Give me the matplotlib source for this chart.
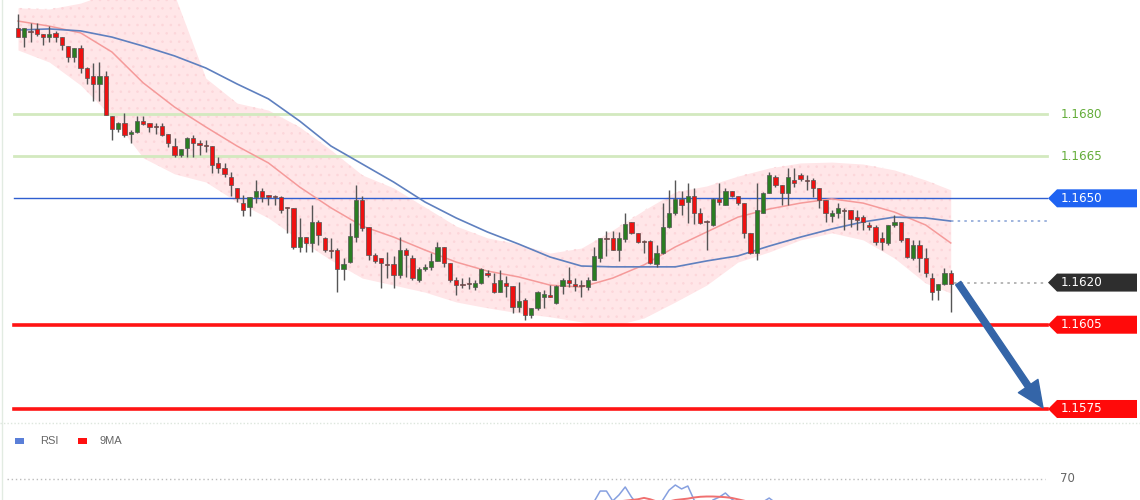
import numpy as np
import matplotlib.pyplot as plt
from matplotlib.patches import Polygon, Rectangle

# candles (EURUSD-like)
opens = [
    1.17106, 1.17074, 1.17096, 1.17103, 1.17085, 1.17074, 1.17089, 1.17074, 1.17042, 1.17003,
    1.17035, 1.16964, 1.16935, 1.16907, 1.16935, 1.16793, 1.16747, 1.16768, 1.16729, 1.16736,
    1.16775, 1.16768, 1.16757, 1.16757, 1.16729, 1.16686, 1.16654, 1.16679, 1.16715, 1.16697,
    1.16690, 1.16686, 1.16626, 1.16608, 1.16576, 1.16537, 1.16483, 1.16469, 1.16505, 1.16526,
    1.16512, 1.16508, 1.16505, 1.16469, 1.16466, 1.16327, 1.16362, 1.16341, 1.16416, 1.16359,
    1.16316, 1.16316, 1.16248, 1.16273, 1.16362, 1.16494, 1.16398, 1.16298, 1.16287, 1.16266,
    1.16266, 1.16227, 1.16316, 1.16287, 1.16209, 1.16248, 1.16256, 1.16277, 1.16327, 1.16270,
    1.16209, 1.16195, 1.16198, 1.16184, 1.16198, 1.16234, 1.16198, 1.16166, 1.16198, 1.16188,
    1.16113, 1.16138, 1.16085, 1.16110, 1.16149, 1.16156, 1.16127, 1.16188, 1.16209, 1.16195,
    1.16191, 1.16184, 1.16209, 1.16287, 1.16359, 1.16359, 1.16316, 1.16355, 1.16416, 1.16377,
    1.16348, 1.16348, 1.16266, 1.16305, 1.16398, 1.16448, 1.16498, 1.16487, 1.16508, 1.16448,
    1.16419, 1.16405, 1.16498, 1.16476, 1.16526, 1.16508, 1.16483, 1.16377, 1.16305, 1.16448,
    1.16519, 1.16576, 1.16547, 1.16519, 1.16565, 1.16583, 1.16565, 1.16565, 1.16537, 1.16494,
    1.16437, 1.16448, 1.16458, 1.16458, 1.16433, 1.16433, 1.16405, 1.16398, 1.16359, 1.16341,
    1.16405, 1.16416, 1.16359, 1.16287, 1.16334, 1.16287, 1.16216, 1.16174, 1.16195, 1.16234,
]
highs = [
    1.17156, 1.17106, 1.17124, 1.17124, 1.17085, 1.17113, 1.17096, 1.17074, 1.17042, 1.17035,
    1.17046, 1.16967, 1.16982, 1.16985, 1.16953, 1.16793, 1.16772, 1.16804, 1.16743, 1.16793,
    1.16793, 1.16768, 1.16768, 1.16768, 1.16729, 1.16715, 1.16676, 1.16718, 1.16725, 1.16708,
    1.16708, 1.16686, 1.16647, 1.16626, 1.16594, 1.16537, 1.16512, 1.16505, 1.16565, 1.16537,
    1.16512, 1.16512, 1.16508, 1.16469, 1.16466, 1.16430, 1.16362, 1.16476, 1.16423, 1.16362,
    1.16359, 1.16323, 1.16287, 1.16412, 1.16547, 1.16508, 1.16398, 1.16305, 1.16287, 1.16309,
    1.16295, 1.16362, 1.16323, 1.16298, 1.16256, 1.16266, 1.16305, 1.16345, 1.16327, 1.16270,
    1.16220, 1.16216, 1.16220, 1.16209, 1.16252, 1.16245, 1.16234, 1.16245, 1.16223, 1.16188,
    1.16202, 1.16145, 1.16110, 1.16170, 1.16174, 1.16191, 1.16191, 1.16216, 1.16256, 1.16216,
    1.16209, 1.16220, 1.16327, 1.16359, 1.16384, 1.16384, 1.16380, 1.16448, 1.16416, 1.16377,
    1.16352, 1.16352, 1.16334, 1.16483, 1.16530, 1.16565, 1.16526, 1.16555, 1.16537, 1.16466,
    1.16423, 1.16501, 1.16555, 1.16537, 1.16526, 1.16508, 1.16483, 1.16377, 1.16555, 1.16523,
    1.16594, 1.16583, 1.16547, 1.16608, 1.16608, 1.16590, 1.16583, 1.16572, 1.16537, 1.16494,
    1.16458, 1.16483, 1.16466, 1.16458, 1.16458, 1.16441, 1.16416, 1.16405, 1.16380, 1.16405,
    1.16441, 1.16416, 1.16359, 1.16352, 1.16352, 1.16323, 1.16234, 1.16195, 1.16252, 1.16245,
]
lows = [
    1.17074, 1.17039, 1.17056, 1.17078, 1.17046, 1.17056, 1.17056, 1.17028, 1.16985, 1.16985,
    1.16946, 1.16907, 1.16846, 1.16846, 1.16797, 1.16708, 1.16736, 1.16718, 1.16697, 1.16733,
    1.16761, 1.16736, 1.16729, 1.16722, 1.16683, 1.16647, 1.16647, 1.16647, 1.16647, 1.16654,
    1.16665, 1.16590, 1.16590, 1.16576, 1.16508, 1.16487, 1.16437, 1.16437, 1.16483, 1.16487,
    1.16476, 1.16476, 1.16448, 1.16377, 1.16320, 1.16309, 1.16309, 1.16309, 1.16334, 1.16309,
    1.16287, 1.16166, 1.16209, 1.16270, 1.16345, 1.16384, 1.16280, 1.16270, 1.16181, 1.16216,
    1.16181, 1.16216, 1.16220, 1.16209, 1.16202, 1.16241, 1.16245, 1.16277, 1.16256, 1.16202,
    1.16156, 1.16181, 1.16177, 1.16174, 1.16195, 1.16220, 1.16163, 1.16166, 1.16149, 1.16092,
    1.16095, 1.16067, 1.16074, 1.16102, 1.16110, 1.16149, 1.16124, 1.16159, 1.16184, 1.16170,
    1.16149, 1.16174, 1.16209, 1.16273, 1.16295, 1.16316, 1.16277, 1.16345, 1.16373, 1.16341,
    1.16305, 1.16266, 1.16256, 1.16302, 1.16394, 1.16441, 1.16441, 1.16412, 1.16409, 1.16409,
    1.16316, 1.16401, 1.16476, 1.16476, 1.16505, 1.16476, 1.16359, 1.16302, 1.16280, 1.16448,
    1.16519, 1.16540, 1.16476, 1.16476, 1.16540, 1.16562, 1.16530, 1.16505, 1.16466, 1.16416,
    1.16416, 1.16430, 1.16387, 1.16398, 1.16387, 1.16387, 1.16387, 1.16334, 1.16316, 1.16334,
    1.16398, 1.16345, 1.16287, 1.16280, 1.16238, 1.16220, 1.16138, 1.16138, 1.16191, 1.16095,
]
closes = [
    1.17074, 1.17106, 1.17092, 1.17085, 1.17074, 1.17085, 1.17074, 1.17046, 1.17003, 1.17035,
    1.16964, 1.16928, 1.16907, 1.16935, 1.16797, 1.16747, 1.16768, 1.16725, 1.16736, 1.16775,
    1.16765, 1.16754, 1.16754, 1.16725, 1.16697, 1.16654, 1.16676, 1.16715, 1.16697, 1.16690,
    1.16686, 1.16619, 1.16608, 1.16587, 1.16547, 1.16501, 1.16458, 1.16505, 1.16526, 1.16505,
    1.16505, 1.16505, 1.16458, 1.16466, 1.16327, 1.16362, 1.16341, 1.16416, 1.16369, 1.16316,
    1.16312, 1.16248, 1.16266, 1.16366, 1.16494, 1.16394, 1.16298, 1.16277, 1.16270, 1.16263,
    1.16227, 1.16316, 1.16298, 1.16216, 1.16248, 1.16256, 1.16277, 1.16327, 1.16270, 1.16209,
    1.16191, 1.16191, 1.16195, 1.16198, 1.16248, 1.16227, 1.16166, 1.16209, 1.16188, 1.16113,
    1.16134, 1.16085, 1.16110, 1.16166, 1.16159, 1.16149, 1.16188, 1.16209, 1.16198, 1.16188,
    1.16188, 1.16209, 1.16295, 1.16359, 1.16355, 1.16316, 1.16359, 1.16409, 1.16377, 1.16345,
    1.16345, 1.16270, 1.16305, 1.16398, 1.16448, 1.16498, 1.16476, 1.16508, 1.16448, 1.16412,
    1.16416, 1.16498, 1.16487, 1.16526, 1.16508, 1.16483, 1.16377, 1.16305, 1.16458, 1.16519,
    1.16583, 1.16547, 1.16519, 1.16576, 1.16555, 1.16569, 1.16562, 1.16537, 1.16494, 1.16448,
    1.16448, 1.16466, 1.16455, 1.16426, 1.16423, 1.16416, 1.16398, 1.16345, 1.16345, 1.16405,
    1.16416, 1.16352, 1.16291, 1.16334, 1.16287, 1.16234, 1.16166, 1.16195, 1.16234, 1.16195,
]

# overlays sampled every 5 candles (0, 5, ..., 145, 149)
ov_idx = list(range(0, 150, 5)) + [149]
ma_fast = [
    1.17131, 1.17113, 1.17089, 1.17021, 1.16911, 1.16825, 1.16754, 1.16686, 1.16626, 1.16540,
    1.16466, 1.16401, 1.16362, 1.16316, 1.16273, 1.16241, 1.16220, 1.16191, 1.16184, 1.16216,
    1.16263, 1.16327, 1.16380, 1.16433, 1.16462, 1.16483, 1.16498, 1.16483, 1.16451, 1.16405,
    1.16341,
]
ma_slow = [
    1.17099, 1.17103, 1.17096, 1.17074, 1.17042, 1.17007, 1.16964, 1.16907, 1.16854, 1.16775,
    1.16686, 1.16622, 1.16558, 1.16487, 1.16430, 1.16380, 1.16337, 1.16291, 1.16259, 1.16256,
    1.16256, 1.16256, 1.16277, 1.16295, 1.16330, 1.16362, 1.16391, 1.16416, 1.16433, 1.16430,
    1.16419,
]
band_upper = [
    1.17178, 1.17174, 1.17195, 1.17234, 1.17249, 1.17224, 1.16928, 1.16839, 1.16814, 1.16754,
    1.16672, 1.16583, 1.16537, 1.16469, 1.16401, 1.16359, 1.16337, 1.16305, 1.16323, 1.16387,
    1.16458, 1.16523, 1.16544, 1.16579, 1.16608, 1.16626, 1.16629, 1.16622, 1.16601, 1.16565,
    1.16530,
]
band_lower = [
    1.17028, 1.16985, 1.16903, 1.16790, 1.16644, 1.16587, 1.16558, 1.16487, 1.16430, 1.16352,
    1.16280, 1.16216, 1.16191, 1.16166, 1.16131, 1.16110, 1.16092, 1.16078, 1.16060, 1.16045,
    1.16074, 1.16131, 1.16191, 1.16273, 1.16309, 1.16352, 1.16377, 1.16352, 1.16287, 1.16198,
    1.16163,
]

# RSI / 9MA, only the part near the top of the lower panel is visible
rsi_idx = list(range(90, 124))
rsi = [
    45, 48, 53.6, 61.4, 61.4, 54.3, 58.6, 64.3, 57.1, 51.4,
    49, 46, 49, 55, 62, 65.7, 62.9, 65, 55, 51.4,
    49, 55, 57, 60, 55.7, 53, 48, 44, 51, 53.6,
    56.4, 53, 51, 48,
]
rsi_ma = [
    47, 48, 50, 52, 53, 53, 54, 54.5, 55, 55.5,
    56.5, 55.5, 54, 53, 54, 55, 55.5, 56, 56.8, 57.3,
    57.5, 57.5, 57.3, 57, 56.5, 55.5, 54.5, 53.5, 53, 52.5,
    52.5, 52, 51, 50,
]

# levels on the right
green_levels = [1.1680, 1.1665]
pivot_level = 1.1650
last_price = 1.1620
support_levels = [1.1605, 1.1575]

W, H = 1140, 500
X0_PX, STEP_PX = 18, 6.26
PX_PRICE = 0.0000356
TOP_PRICE = 1.17206
PANEL_PX = 422

plt.rcParams["hatch.linewidth"] = 0.6

fig = plt.figure(figsize=(W / 100, H / 100), dpi=100)
ax = fig.add_axes([0, 1 - PANEL_PX / H, 1, PANEL_PX / H])
xlim = (-X0_PX / STEP_PX, (W - X0_PX) / STEP_PX)
ax.set_xlim(*xlim)
ax.set_ylim(TOP_PRICE - PANEL_PX * PX_PRICE, TOP_PRICE)
ax.axis("off")


def px_to_x(px):
    return xlim[0] + px / W * (xlim[1] - xlim[0])


LEFT_F, RIGHT_F = 14 / W, 1047 / W

# band + moving averages
ax.fill_between(ov_idx, band_lower, band_upper, color="#ffe6e8", lw=0, zorder=1)
ax.fill_between(ov_idx, band_lower, band_upper, facecolor="none", edgecolor="#fcd6da",
                hatch="..", lw=0, zorder=1)
ax.plot(ov_idx, ma_fast, color="#f59a9a", lw=1.1, zorder=2)
ax.plot(ov_idx, ma_slow, color="#5f80bf", lw=1.2, zorder=2)
ax.plot([ov_idx[-1], px_to_x(1047)], [ma_slow[-1], ma_slow[-1]], color="#8fa8d8",
        lw=1.2, ls=(0, (1.5, 2.5)), zorder=2)

# horizontal levels
for lv in green_levels:
    ax.axhline(lv, LEFT_F, RIGHT_F, color="#d3e9bf", lw=2, zorder=1.5)
ax.axhline(pivot_level, LEFT_F, RIGHT_F, color="#2f5fd0", lw=1, zorder=1.5)
for lv in support_levels:
    ax.axhline(lv, LEFT_F, RIGHT_F, color="#ff1414", lw=2.6, zorder=1.5)
ax.plot([len(closes) - 0.5, px_to_x(1047)], [last_price, last_price], color="#aaaaaa",
        lw=1.2, ls=(0, (1.5, 2.5)), zorder=2)

# candles
idx = np.arange(len(opens))
o = np.array(opens)
c = np.array(closes)
up = c >= o
ax.vlines(idx, lows, highs, color="#555555", lw=1, zorder=3)
body_lo = np.minimum(o, c)
body_h = np.maximum(np.abs(c - o), 0.00003)
ax.bar(idx, body_h, bottom=body_lo, width=0.68,
       color=np.where(up, "#2a7d22", "#ee1111"), edgecolor="#555555", lw=0.5, zorder=4)

# arrow toward the lower target
ax.annotate("", xy=(px_to_x(1043), support_levels[1] + 0.00004),
            xytext=(len(closes) + 0.2, last_price - 0.00002),
            arrowprops=dict(width=4.5, headwidth=17, headlength=19, color="#3465a8", shrink=0),
            zorder=6)

# price tags
tr = ax.get_yaxis_transform()
box_h = 18 * PX_PRICE
bx0, btip, bx1 = 1048 / W, 1057 / W, 1137 / W
tag_font = dict(family="DejaVu Sans", fontsize=8.6, va="center", ha="left", zorder=7)


def tag(level, face):
    pts = [(bx0, level), (btip, level + box_h / 2), (bx1, level + box_h / 2),
           (bx1, level - box_h / 2), (btip, level - box_h / 2)]
    ax.add_patch(Polygon(pts, closed=True, transform=tr, facecolor=face, lw=0,
                         clip_on=False, zorder=5))
    ax.text(1061 / W, level, f"{level:.4f}", transform=tr, color="white", **tag_font)


for lv in green_levels:
    ax.text(1061 / W, lv, f"{lv:.4f}", transform=tr, color="#64ad3a", **tag_font)
tag(pivot_level, "#1f63f2")
tag(last_price, "#2e2e2e")
for lv in support_levels:
    tag(lv, "#ff0a0a")

# lower RSI panel
rsi_top_px = 425
ax2 = fig.add_axes([0, 0, 1, 1 - rsi_top_px / H])
ax2.set_xlim(*xlim)
ax2.set_ylim(70 - 21 / 1.4, 70 + 54 / 1.4)
ax2.axis("off")
ax2.axhline(70, 7 / W, 1045 / W, color="#bbbbbb", lw=1, ls=(0, (1, 2)))
ax2.text(1060 / W, 70, "70", transform=ax2.get_yaxis_transform(), color="#666666",
         fontsize=8.5, va="center", ha="left", family="DejaVu Sans")
ax2.plot(rsi_idx, rsi, color="#86a0e0", lw=1.1)
ax2.plot(rsi_idx, rsi_ma, color="#f07070", lw=1.4)

leg_y = 1 - (441 - rsi_top_px) / (H - rsi_top_px)
ax2.add_patch(Rectangle((15 / W, leg_y - 0.04), 9 / W, 0.08, transform=ax2.transAxes,
                        color="#5a7fd8", lw=0))
ax2.text(40 / W, leg_y, "RSI", transform=ax2.transAxes, fontsize=8, color="#666666",
         va="center", ha="left", family="Liberation Sans")
ax2.add_patch(Rectangle((78 / W, leg_y - 0.04), 9 / W, 0.08, transform=ax2.transAxes,
                        color="#ff1010", lw=0))
ax2.text(100 / W, leg_y, "9MA", transform=ax2.transAxes, fontsize=8, color="#666666",
         va="center", ha="left", family="Liberation Sans")

# frame bits
fig.add_artist(plt.Line2D([2 / W, 2 / W], [0, 1], color="#e2ebe2", lw=1))
fig.add_artist(plt.Line2D([0, 1], [1 - 423 / H, 1 - 423 / H], color="#dde6dd", lw=1,
                          ls=(0, (1, 1.5))))

fig.savefig("out.png", dpi=100, facecolor="white")
